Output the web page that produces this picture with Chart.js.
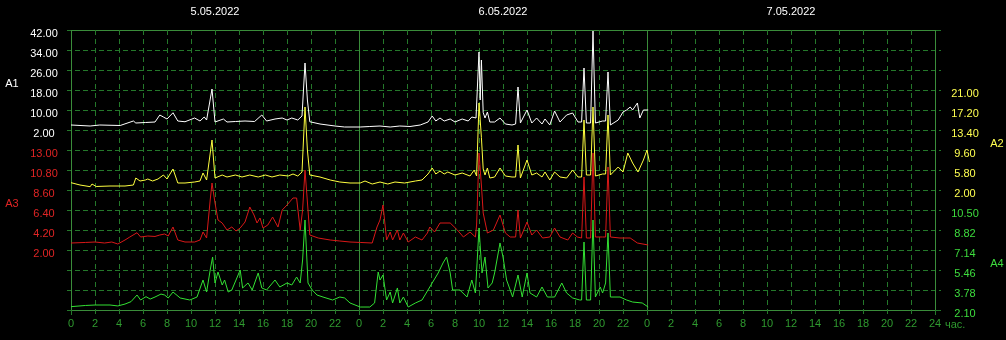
<!DOCTYPE html>
<html>
<head>
<meta charset="utf-8">
<script src="https://cdn.jsdelivr.net/npm/chart.js@4.4.1/dist/chart.umd.min.js"></script>
<style>
  html, body { margin: 0; padding: 0; background: #000; }
  #plot { display: block; background: #000; }
</style>
</head>
<body>
<canvas id="plot" width="1006" height="340"></canvas>
<script>
const dayLabels = ["5.05.2022", "6.05.2022", "7.05.2022"];
const hourTicks = [0, 2, 4, 6, 8, 10, 12, 14, 16, 18, 20, 22, 24, 26, 28, 30, 32, 34, 36,
  38, 40, 42, 44, 46, 48, 50, 52, 54, 56, 58, 60, 62, 64, 66, 68, 70, 72];
const unitLabel = "час.";

const a1Ticks = [2, 10, 18, 26, 34, 42];
const a2Ticks = [2, 5.8, 9.6, 13.4, 17.2, 21];
const a3Ticks = [2, 4.2, 6.4, 8.6, 10.8, 13];
const a4Ticks = [2.1, 3.78, 5.46, 7.14, 8.82, 10.5];

const a1Hours = [0, 1.6, 2.4, 4.1, 5.2, 5.4, 6.2, 7.0, 7.4, 7.7, 8.0, 8.5, 8.9, 9.5, 10.3, 10.75, 11.1, 11.3, 11.75, 12.0,
  12.7, 13.0, 13.7, 14.5, 15.3, 15.9, 16.3, 17.0, 17.6, 18.0, 18.4, 18.9, 19.25, 19.5, 19.7, 19.9, 20.75, 22.0, 22.8, 24.1,
  24.9, 25.75, 26.6, 27.4, 28.25, 29.1, 29.75, 30.1, 30.4, 30.75, 31.1, 31.6, 32.0, 32.6, 33.1, 33.4, 33.75, 34.0, 34.1, 34.2,
  34.35, 34.5, 34.7, 34.9, 35.3, 35.75, 36.2, 36.75, 37.05, 37.25, 37.45, 38.0, 38.4, 38.8, 39.25, 39.5, 39.9, 40.3, 40.75, 41.3,
  41.8, 42.25, 42.55, 42.75, 42.95, 43.3, 43.5, 43.7, 44.3, 44.55, 44.75, 44.95, 45.6, 46.0, 46.3, 46.6, 46.8, 47.2, 47.4, 47.7, 48.1];
const a1Values = [4.0, 3.6, 4.0, 3.8, 5.6, 4.8, 5.0, 5.2, 8.0, 7.2, 6.4, 8.9, 5.6, 5.3, 6.8, 5.6, 7.2, 6.0, 18.4, 5.2,
  6.4, 5.2, 5.4, 5.6, 5.4, 8.0, 5.6, 6.4, 6.8, 6.0, 6.8, 6.0, 7.6, 28.8, 14.0, 5.3, 4.4, 3.6, 3.2, 3.2,
  3.4, 3.6, 3.2, 3.6, 3.4, 4.0, 5.2, 7.6, 5.6, 6.8, 5.6, 6.4, 5.2, 6.4, 5.6, 7.2, 6.8, 33.2, 14.0, 30.0,
  9.0, 6.8, 9.2, 5.2, 5.2, 6.8, 4.4, 4.0, 4.4, 19.2, 4.8, 10.0, 4.8, 6.8, 4.4, 6.4, 4.0, 9.6, 5.2, 8.0,
  8.8, 5.2, 5.2, 26.8, 4.8, 4.8, 41.6, 4.8, 5.6, 5.6, 25.2, 4.0, 6.0, 9.2, 10.0, 11.2, 10.0, 12.8, 6.8, 10.0, 10.0];

const a2Hours = [0, 0.75, 1.6, 1.75, 2.1, 3.25, 4.5, 5.2, 5.4, 5.75, 6.2, 6.4, 6.8, 7.25, 7.7, 8.0, 8.5, 8.9, 9.5, 10.3,
  10.75, 11.0, 11.3, 11.75, 12.0, 12.6, 13.0, 13.7, 14.25, 14.9, 15.6, 16.2, 16.75, 17.4, 18.1, 18.5, 18.9, 19.25, 19.5, 19.7,
  19.9, 20.75, 21.6, 22.4, 23.25, 24.1, 24.5, 25.1, 25.75, 26.4, 27.0, 27.8, 28.7, 29.25, 29.75, 30.1, 30.4, 30.75, 31.1, 31.4,
  32.0, 32.6, 33.25, 33.6, 33.8, 34.0, 34.2, 34.35, 34.5, 34.7, 34.9, 35.3, 35.75, 36.2, 36.75, 37.05, 37.25, 37.45, 38.0, 38.4,
  38.8, 39.25, 39.5, 39.9, 40.3, 40.75, 41.3, 41.8, 42.25, 42.55, 42.75, 42.95, 43.3, 43.5, 43.7, 44.3, 44.55, 44.75, 44.95, 45.6,
  46.0, 46.4, 46.8, 47.25, 47.7, 48.0, 48.2];
const a2Values = [3.39, 2.95, 2.63, 3.14, 2.67, 2.76, 2.76, 2.95, 4.28, 3.71, 3.9, 4.09, 3.71, 4.09, 4.85, 4.09, 5.99, 3.33, 3.33, 3.52,
  3.71, 5.23, 3.9, 11.5, 4.28, 4.85, 4.47, 4.85, 4.47, 4.85, 4.47, 4.85, 4.47, 4.85, 4.66, 5.04, 4.66, 5.42, 17.77, 9.6,
  4.85, 4.47, 3.9, 3.52, 3.33, 3.33, 3.71, 3.14, 3.52, 3.14, 3.52, 3.33, 3.71, 3.9, 5.04, 6.18, 5.04, 5.61, 5.04, 5.42,
  4.85, 5.23, 4.66, 5.8, 4.66, 18.53, 12.0, 6.0, 4.85, 6.18, 4.28, 4.47, 6.18, 4.66, 4.47, 4.47, 10.55, 4.28, 7.7, 4.85,
  5.23, 4.47, 5.42, 3.9, 5.42, 4.47, 4.28, 5.8, 4.47, 4.47, 15.3, 4.85, 4.85, 17.77, 4.66, 5.04, 5.04, 16.25, 4.85, 6.37,
  5.42, 9.03, 7.13, 5.42, 7.7, 9.6, 7.32];

const a3Hours = [0, 1.2, 2.0, 2.8, 3.4, 3.9, 4.5, 4.9, 5.5, 5.8, 6.4, 7.0, 7.4, 7.8, 8.1, 8.5, 8.9, 9.5, 10.3, 10.75,
  11.0, 11.3, 11.6, 11.75, 12.0, 12.25, 12.6, 13.0, 13.4, 13.75, 14.1, 14.5, 14.9, 15.25, 15.5, 15.75, 16.0, 16.4, 16.8, 17.25,
  17.6, 18.0, 18.5, 18.8, 19.1, 19.3, 19.5, 19.75, 19.9, 20.6, 21.6, 22.4, 23.25, 24.1, 25.1, 25.5, 25.75, 26.0, 26.3, 26.6,
  26.8, 27.2, 27.4, 27.7, 28.1, 28.7, 29.25, 29.7, 29.9, 30.3, 30.75, 31.6, 32.2, 32.7, 33.25, 33.7, 33.8, 34.0, 34.2, 34.35,
  34.7, 35.2, 35.75, 36.2, 36.6, 37.05, 37.25, 37.45, 38.0, 38.4, 38.8, 39.3, 39.9, 40.3, 40.75, 41.4, 41.8, 42.2, 42.55, 42.75,
  42.95, 43.3, 43.5, 43.7, 44.3, 44.55, 44.75, 44.95, 45.75, 46.6, 47.2, 48.1];
const a3Values = [2.77, 2.83, 2.88, 2.77, 2.88, 2.66, 3.1, 3.43, 3.9, 3.43, 3.54, 3.49, 3.65, 3.76, 3.54, 4.53, 3.1, 2.88, 2.88, 3.1,
  3.98, 3.32, 7.5, 9.37, 7.17, 5.3, 4.97, 4.2, 4.53, 4.09, 4.42, 5.08, 6.73, 5.85, 4.97, 5.52, 4.42, 4.75, 5.63, 4.53,
  6.4, 6.95, 7.72, 7.72, 4.2, 6.4, 10.8, 6.4, 3.65, 3.32, 3.1, 2.99, 2.88, 2.83, 2.77, 4.53, 5.3, 6.95, 3.1, 3.98,
  3.1, 4.2, 3.1, 3.87, 2.88, 3.43, 3.1, 3.87, 4.53, 3.98, 4.97, 4.97, 4.2, 3.43, 3.98, 3.43, 4.75, 12.67, 9.15, 6.07,
  3.87, 4.2, 5.85, 3.87, 3.43, 3.43, 6.4, 3.32, 5.08, 3.65, 4.2, 3.32, 3.43, 4.42, 3.43, 3.1, 3.87, 3.43, 3.32, 10.03,
  3.32, 3.32, 12.67, 3.43, 3.43, 3.43, 11.13, 3.43, 3.32, 3.32, 2.77, 2.55];

const a4Hours = [0, 1.2, 2.0, 3.25, 3.9, 4.5, 5.0, 5.5, 5.8, 6.25, 6.6, 7.0, 7.5, 7.8, 8.1, 8.5, 9.1, 9.9, 10.5, 11.0,
  11.3, 11.6, 11.8, 12.0, 12.25, 12.6, 12.8, 13.1, 13.4, 13.75, 14.1, 14.3, 14.75, 15.1, 15.6, 15.9, 16.3, 17.0, 17.4, 18.0,
  18.4, 18.8, 19.1, 19.3, 19.5, 19.75, 20.1, 20.5, 21.0, 21.8, 22.4, 22.8, 23.25, 24.1, 24.9, 25.3, 25.6, 25.75, 26.0, 26.3,
  26.6, 26.8, 27.2, 27.4, 27.7, 28.1, 28.7, 29.25, 29.75, 30.1, 30.6, 31.0, 31.3, 31.6, 31.8, 32.4, 33.0, 33.4, 33.7, 34.0,
  34.25, 34.5, 34.75, 35.1, 35.3, 35.75, 36.0, 36.3, 36.6, 36.8, 37.25, 37.6, 38.0, 38.25, 38.8, 39.25, 39.7, 40.3, 40.9, 41.3,
  41.8, 42.4, 42.55, 42.75, 42.95, 43.3, 43.5, 43.7, 44.1, 44.3, 44.55, 44.75, 44.95, 45.75, 46.3, 46.8, 47.6, 48.1];
const a4Values = [2.38, 2.48, 2.52, 2.52, 2.44, 2.6, 2.8, 3.36, 2.94, 3.22, 3.02, 3.19, 3.44, 3.36, 3.11, 3.61, 3.11, 2.94, 3.19, 4.62,
  3.61, 5.46, 6.55, 4.37, 5.29, 4.2, 4.62, 3.61, 3.78, 4.62, 5.46, 3.95, 4.37, 3.78, 5.21, 3.95, 3.78, 4.62, 4.03, 4.37,
  4.2, 4.87, 4.37, 6.3, 9.66, 4.37, 3.78, 3.36, 3.19, 2.94, 3.19, 3.11, 2.69, 2.35, 2.35, 2.69, 5.29, 4.62, 5.04, 2.94,
  3.61, 2.69, 3.95, 2.69, 3.19, 2.35, 2.69, 2.94, 3.78, 4.37, 5.21, 6.05, 6.55, 5.21, 3.78, 3.78, 3.19, 4.62, 3.53, 8.99,
  5.21, 6.55, 3.95, 4.37, 5.21, 7.73, 6.55, 4.62, 3.78, 3.19, 5.04, 3.19, 5.21, 3.53, 3.19, 4.03, 3.19, 3.19, 4.37, 3.53,
  3.11, 2.94, 2.94, 7.81, 2.94, 2.94, 9.66, 3.19, 4.03, 3.53, 4.37, 8.57, 3.19, 3.19, 2.94, 2.77, 2.69, 2.35];

const FONT = '11px "Liberation Sans", Arial, sans-serif';
const GRID_DASH = "#24782a";
const GRID_SOLID = "#3a8c3a";

function toPoints(hours, values) {
  return hours.map((h, i) => ({ x: h, y: values[i] }));
}

function fmt(v) {
  return v.toFixed(2);
}

const gridPlugin = {
  id: "recorderGrid",
  beforeDatasetsDraw(chart) {
    const { ctx, chartArea: area, scales } = chart;
    const xs = scales.x;
    const ys = scales.yA1;
    ctx.save();
    ctx.lineWidth = 1;

    // horizontal lines, 8 units of A1 apart
    for (let v = ys.max; v >= ys.min - 0.001; v -= 8) {
      const y = Math.round(ys.getPixelForValue(v)) + 0.5;
      ctx.beginPath();
      if (Math.abs(v - ys.max) < 0.01 || Math.abs(v - ys.min) < 0.01) {
        ctx.setLineDash([]);
        ctx.strokeStyle = GRID_SOLID;
        ctx.moveTo(area.left, y);
        ctx.lineTo(area.right, y);
        ctx.stroke();
        ctx.beginPath();
        ctx.setLineDash([]);
        ctx.strokeStyle = GRID_DASH;
        ctx.moveTo(area.left - 4, y);
        ctx.lineTo(area.left, y);
        ctx.moveTo(area.right, y);
        ctx.lineTo(area.right + 6, y);
      } else {
        ctx.setLineDash([5, 3]);
        ctx.strokeStyle = GRID_DASH;
        ctx.moveTo(area.left - 4, y);
        ctx.lineTo(area.right + 6, y);
      }
      ctx.stroke();
    }

    hourTicks.forEach(h => {
      const x = Math.round(xs.getPixelForValue(h)) + 0.5;
      ctx.beginPath();
      if (h % 24 === 0) {
        ctx.setLineDash([]);
        ctx.strokeStyle = GRID_SOLID;
        ctx.moveTo(x, area.top);
        ctx.lineTo(x, area.bottom);
        ctx.stroke();
        ctx.beginPath();
        ctx.strokeStyle = GRID_DASH;
        ctx.moveTo(x, area.bottom);
        ctx.lineTo(x, area.bottom + 5);
      } else {
        ctx.setLineDash([5, 4]);
        ctx.strokeStyle = GRID_DASH;
        ctx.moveTo(x, area.top);
        ctx.lineTo(x, area.bottom + 5);
      }
      ctx.stroke();
    });
    ctx.restore();
  },
  afterDraw(chart) {
    const { ctx, chartArea: area, scales } = chart;
    const xs = scales.x;
    ctx.save();
    ctx.font = FONT;
    ctx.textBaseline = "middle";
    ctx.textAlign = "center";

    ctx.fillStyle = "#ffffff";
    dayLabels.forEach((d, i) => {
      ctx.fillText(d, xs.getPixelForValue(12 + 24 * i), 12);
    });

    ctx.fillStyle = "#2f9a2f";
    hourTicks.forEach(h => {
      const label = h === 72 ? "24" : String(h % 24);
      ctx.fillText(label, xs.getPixelForValue(h), area.bottom + 14);
    });
    ctx.textAlign = "left";
    ctx.fillText(unitLabel, area.right + 10, area.bottom + 15);

    const sides = [
      { scale: scales.yA1, ticks: a1Ticks, color: "#ffffff", x: 44, name: "A1", nameX: 12 },
      { scale: scales.yA2, ticks: a2Ticks, color: "#ffff50", x: 965, name: "A2", nameX: 997 },
      { scale: scales.yA3, ticks: a3Ticks, color: "#e02424", x: 44, name: "A3", nameX: 12 },
      { scale: scales.yA4, ticks: a4Ticks, color: "#3ddc3d", x: 965, name: "A4", nameX: 997 }
    ];
    ctx.textAlign = "center";
    sides.forEach(s => {
      ctx.fillStyle = s.color;
      s.ticks.forEach(v => {
        ctx.fillText(fmt(v), s.x, s.scale.getPixelForValue(v) + 4);
      });
      const mid = (s.scale.getPixelForValue(s.ticks[0]) + s.scale.getPixelForValue(s.ticks[s.ticks.length - 1])) / 2;
      ctx.fillText(s.name, s.nameX, mid + 4);
    });
    ctx.restore();
  }
};

new Chart(document.getElementById("plot"), {
  type: "line",
  data: {
    datasets: [
      { label: "A1", data: toPoints(a1Hours, a1Values), yAxisID: "yA1", borderColor: "#ffffff", order: 4 },
      { label: "A2", data: toPoints(a2Hours, a2Values), yAxisID: "yA2", borderColor: "#ffff40", order: 3 },
      { label: "A3", data: toPoints(a3Hours, a3Values), yAxisID: "yA3", borderColor: "#d81818", order: 2 },
      { label: "A4", data: toPoints(a4Hours, a4Values), yAxisID: "yA4", borderColor: "#33e033", order: 1 }
    ]
  },
  options: {
    responsive: false,
    animation: false,
    layout: { padding: { left: 71, right: 71, top: 30, bottom: 30 } },
    plugins: { legend: { display: false }, tooltip: { enabled: false } },
    elements: {
      point: { radius: 0 },
      line: { borderWidth: 1, tension: 0, fill: false }
    },
    scales: {
      x: { type: "linear", min: 0, max: 72, display: false },
      yA1: { type: "linear", min: -70, max: 42, display: false },
      yA2: { type: "linear", min: -20.8, max: 32.4, display: false },
      yA3: { type: "linear", min: -4.6, max: 26.2, display: false },
      yA4: { type: "linear", min: 2.1, max: 25.62, display: false }
    }
  },
  plugins: [gridPlugin]
});
</script>
</body>
</html>
